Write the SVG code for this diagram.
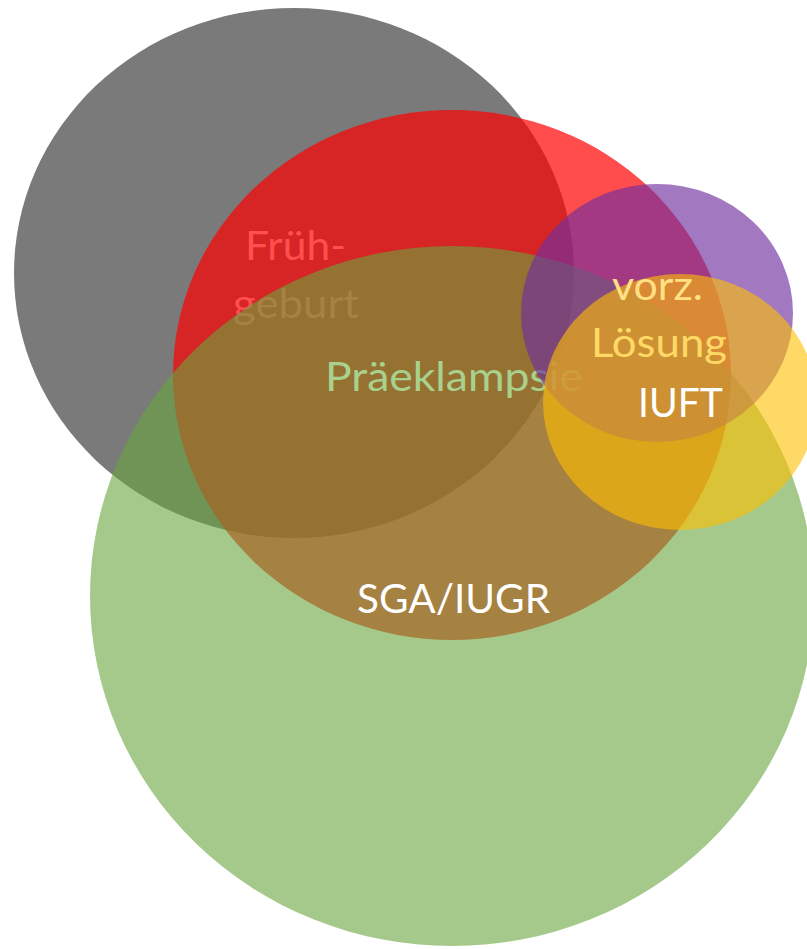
<svg xmlns="http://www.w3.org/2000/svg" width="807" height="949" viewBox="0 0 807 949">
<style>
.lbl{font-family:Lato,"Open Sans","Liberation Sans",sans-serif;font-size:41px;}
</style>
<rect width="807" height="949" fill="#FFFFFF"/>
<g id="gray-set"><ellipse cx="294" cy="273" rx="280" ry="265" fill="#7A7A7A"/></g>
<g id="red-set"><ellipse cx="452" cy="375" rx="279" ry="265" fill="#FF0000" fill-opacity="0.7"/></g>
<g id="label-fruehgeburt">
<text class="lbl" x="245" y="260" fill="#FF5050" textLength="101" lengthAdjust="spacingAndGlyphs">Früh-</text>
<text class="lbl" x="233" y="318" fill="#FF5050" textLength="126" lengthAdjust="spacingAndGlyphs">geburt</text>
</g>
<g id="green-set"><ellipse cx="452" cy="596" rx="362" ry="350" fill="#69A53C" fill-opacity="0.6"/></g>
<g id="label-praeeklampsie">
<text class="lbl" x="325" y="391" fill="#A9D18E" textLength="258" lengthAdjust="spacingAndGlyphs">Präeklampsie</text>
</g>
<g id="purple-set"><ellipse cx="657" cy="313" rx="136" ry="129" fill="#7030A0" fill-opacity="0.65"/></g>
<g id="yellow-set"><ellipse cx="680" cy="402" rx="137" ry="128" fill="#FFC000" fill-opacity="0.6"/></g>
<g id="label-vorz-loesung">
<text class="lbl" x="612" y="300" fill="#FFE084" textLength="91" lengthAdjust="spacingAndGlyphs">vorz.</text>
<text class="lbl" x="591" y="357" fill="#FFD966" textLength="136" lengthAdjust="spacingAndGlyphs">Lösung</text>
</g>
<g id="label-iuft">
<text class="lbl" x="638" y="417" fill="#FFFFFF" textLength="85" lengthAdjust="spacingAndGlyphs">IUFT</text>
</g>
<g id="label-sga-iugr">
<text class="lbl" x="357" y="613" fill="#FFFFFF" textLength="193" lengthAdjust="spacingAndGlyphs">SGA/IUGR</text>
</g>
</svg>
